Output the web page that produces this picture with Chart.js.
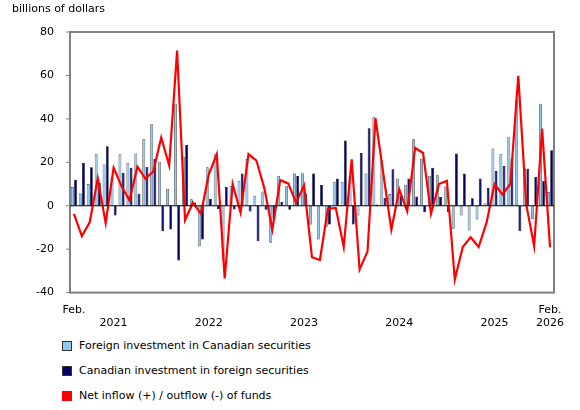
<!DOCTYPE html>
<html><head><meta charset="utf-8">
<script src="https://cdn.jsdelivr.net/npm/chart.js@4"></script>
<style>
body{margin:0;background:#fff;font-family:Verdana,"DejaVu Sans",sans-serif;}
#wrap{position:absolute;left:0;top:0;width:580px;height:333px;}
.leg{position:absolute;left:62px;font-size:11px;color:#000;display:flex;align-items:center;}
.sw{width:10px;height:10px;margin-right:7px;box-sizing:border-box;border:1px solid #333;}
</style></head><body>
<div id="wrap"><canvas id="c" width="580" height="333"></canvas></div>
<div class="leg" style="top:339px"><span class="sw" style="background:#8fc9f0"></span>Foreign investment in Canadian securities</div>
<div class="leg" style="top:364px"><span class="sw" style="background:#000066"></span>Canadian investment in foreign securities</div>
<div class="leg" style="top:389px"><span class="sw" style="background:#ff0000;border-color:#ff0000"></span>Net inflow (+) / outflow (-) of funds</div>
<script>
const months=['Feb','Mar','Apr','May','Jun','Jul','Aug','Sep','Oct','Nov','Dec','Jan'];
const categories=[];
for(let i=0;i<61;i++){const y=2021+Math.floor((1+i)/12);categories.push(months[i%12]+' '+y);}
const foreignInCanada=[8.6,5.8,10,23.7,19,13,23.7,19.8,24,30.6,37.5,20.3,7.8,47,22.5,3,-18.6,17.7,23.7,-25.2,9,11.5,21.5,4.6,6.5,-17,13.8,9,14.8,15,-8.8,-15.5,-9.7,11,11,13.7,-4.5,14.8,41,20.8,5.4,12.5,9.7,30.6,21.7,13.8,14,8.8,-10.6,-4.5,-11.4,-6.3,1.2,26.3,23.7,31.8,48.6,17,-6.2,47,6.3];
const canadianAbroad=[12,19.8,17.7,10.6,27.4,-4.5,15.2,17.5,5.5,18,21.5,-11.7,-11,-25.2,28,1.5,-15.5,3.2,-1.5,8.6,-1.7,14.8,-2.6,-16.3,-1.8,-6,1.8,-1.8,13.7,5.6,14.8,9.5,-8.6,12.5,30,-8.6,24.3,35.7,0.6,3.7,16.8,4.5,12.5,4.2,-3,17.5,4,-3,24,14.8,3.4,12.5,8.2,16,18.3,21.7,-11.7,17,13.2,11.5,25.5];
const netFlow=[-3.7,-14,-7.5,12.6,-8,17.5,9,2.5,18,12.5,15.7,31.4,18.6,71.4,-6.6,1.4,-3.7,14.5,23.7,-33.5,10,-3.2,23.8,20.8,8,-11,11.8,10.3,1.4,9.4,-23.7,-25,-1.4,-1,-19,21.4,-29.4,-21,40.3,14.5,-11,7.5,-2.6,26.6,24.3,-3.7,10,11.5,-34,-19,-14.5,-19,-7.8,10,5.2,10,59.8,0.6,-18.6,35.5,-19.2];
const yTicks=[-40,-20,0,20,40,60,80];
const tickLabel=i=>{if(i===0)return['Feb.',''];if(i===60)return['Feb.','2026'];if((i-5)%12===0)return['',String(2021+(i-5)/12)];return '';};
const frame={id:'frame',afterDraw(ch){const a=ch.chartArea,x=ch.ctx;x.save();x.strokeStyle='#808080';x.lineWidth=2;x.strokeRect(a.left,a.top,a.right-a.left,a.bottom-a.top);
x.lineWidth=1;x.beginPath();yTicks.forEach(v=>{const p=ch.scales.y.getPixelForValue(v);x.moveTo(a.left-4,p);x.lineTo(a.left,p);});x.stroke();
const y0=ch.scales.y.getPixelForValue(0);x.strokeStyle='#000';x.lineWidth=1.2;x.beginPath();x.moveTo(a.left,y0);x.lineTo(a.right,y0);x.stroke();
x.fillStyle='#000';x.font='11px Verdana, "DejaVu Sans"';x.fillText('billions of dollars',12,12);x.restore();}};
new Chart(document.getElementById('c'),{
data:{labels:categories,datasets:[
{type:'line',data:netFlow,borderColor:'#ff0000',borderWidth:2.2,pointRadius:0,tension:0,order:0},
{type:'bar',data:foreignInCanada,backgroundColor:'#8fc9f0',borderColor:'#333',borderWidth:0.7,categoryPercentage:0.8,barPercentage:0.9,order:1},
{type:'bar',data:canadianAbroad,backgroundColor:'#000066',borderColor:'#000033',borderWidth:0.7,categoryPercentage:0.8,barPercentage:0.9,order:1}]},
options:{responsive:false,animation:false,layout:{padding:{left:28,right:26,top:32,bottom:0}},
plugins:{legend:{display:false},tooltip:{enabled:false}},
scales:{x:{grid:{display:false},border:{display:false},ticks:{autoSkip:false,maxRotation:0,color:'#000',font:{size:11,family:'Verdana, "DejaVu Sans"'},callback:(v,i)=>tickLabel(i)}},
y:{min:-40,max:80,afterBuildTicks:s=>{s.ticks=yTicks.map(v=>({value:v}));},grid:{display:false},border:{display:false},ticks:{color:'#000',font:{size:11,family:'Verdana, "DejaVu Sans"'},padding:8}}}},
plugins:[frame]});
</script></body></html>
